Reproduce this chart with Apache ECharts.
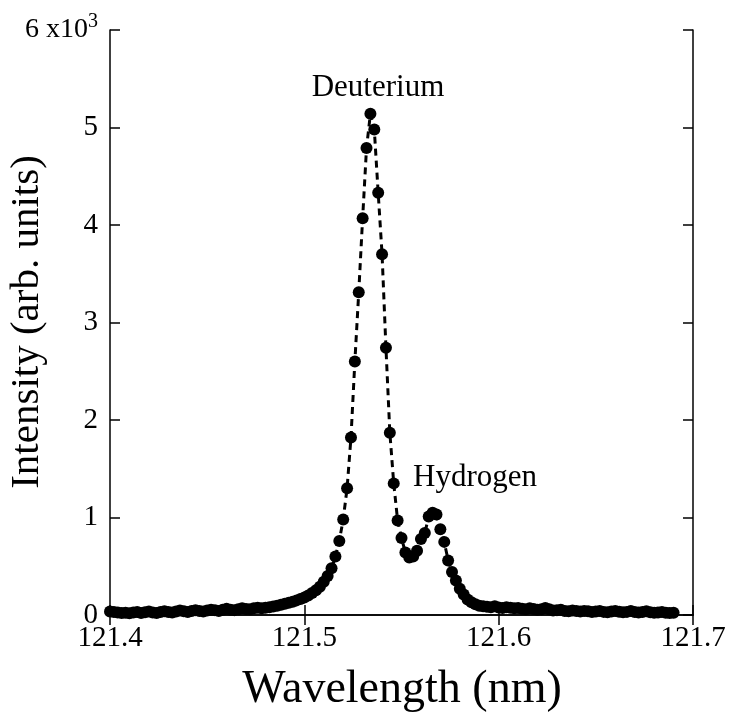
<!DOCTYPE html>
<html><head><meta charset="utf-8">
<script src="https://cdn.jsdelivr.net/npm/echarts/dist/echarts.min.js"></script>
<style>html,body{margin:0;padding:0;background:#fff}#c{width:732px;height:722px}</style>
</head><body><div id="c"></div>
<script>
const wavelength = [
121.400,121.402,121.404,121.406,121.408,121.410,121.412,121.414,121.416,121.418,
121.420,121.422,121.424,121.426,121.428,121.430,121.432,121.434,121.436,121.438,
121.440,121.442,121.444,121.446,121.448,121.450,121.452,121.454,121.456,121.458,
121.460,121.462,121.464,121.466,121.468,121.470,121.472,121.474,121.476,121.478,
121.480,121.482,121.484,121.486,121.488,121.490,121.492,121.494,121.496,121.498,
121.500,121.502,121.504,121.506,121.508,121.510,121.512,121.514,121.516,121.518,
121.520,121.522,121.524,121.526,121.528,121.530,121.532,121.534,121.536,121.538,
121.540,121.542,121.544,121.546,121.548,121.550,121.552,121.554,121.556,121.558,
121.560,121.562,121.564,121.566,121.568,121.570,121.572,121.574,121.576,121.578,
121.580,121.582,121.584,121.586,121.588,121.590,121.592,121.594,121.596,121.598,
121.600,121.602,121.604,121.606,121.608,121.610,121.612,121.614,121.616,121.618,
121.620,121.622,121.624,121.626,121.628,121.630,121.632,121.634,121.636,121.638,
121.640,121.642,121.644,121.646,121.648,121.650,121.652,121.654,121.656,121.658,
121.660,121.662,121.664,121.666,121.668,121.670,121.672,121.674,121.676,121.678,
121.680,121.682,121.684,121.686,121.688,121.690
];
const intensity = [
35,30,25,20,22,18,25,30,20,28,
35,25,20,30,38,30,25,35,45,38,
30,40,50,42,35,45,55,50,40,55,
65,55,50,60,70,62,58,68,75,70,
75,80,88,95,105,115,125,135,150,165,
180,200,225,255,290,340,400,480,600,760,
980,1300,1820,2600,3310,4070,4790,5140,4980,4330,
3700,2740,1870,1350,970,790,640,590,600,660,
780,840,1010,1050,1030,880,750,560,440,355,
270,210,160,130,110,95,90,85,80,90,
78,72,80,75,68,72,65,60,68,62,
55,60,72,58,45,50,55,42,38,45,
40,35,42,38,30,35,40,32,28,35,
42,33,28,32,40,30,25,30,38,28,
22,25,30,22,20,22
];
const xMin = 121.4, xMax = 121.7, xStep = 0.1;
const yMin = 0, yMax = 6000, yStep = 1000;
const xTitle = 'Wavelength (nm)';
const yTitle = 'Intensity (arb. units)';
const peakLabels = ['Deuterium', 'Hydrogen'];

const FONT = '"Liberation Serif", "Times New Roman", serif';
const chart = echarts.init(document.getElementById('c'), null, {renderer: 'canvas'});
const pts = wavelength.map((w, i) => [w, intensity[i]]);
const axLine = {show: true, lineStyle: {color: '#000', width: 1.5}};
const axTick = {show: true, inside: true, length: 10, lineStyle: {color: '#000', width: 1.5}};

const option = {
  backgroundColor: '#fff',
  animation: false,
  grid: {left: 110, top: 30, width: 583, height: 585, outerBoundsMode: 'none', containLabel: false},
  xAxis: [
    {type: 'value', min: xMin, max: xMax, interval: xStep, position: 'bottom',
     axisLine: axLine, axisTick: axTick, splitLine: {show: false},
     axisLabel: {show: true, margin: 9, color: '#000', fontFamily: FONT, fontSize: 29,
       formatter: v => v.toFixed(1)}},
    {type: 'value', min: xMin, max: xMax, interval: xStep, position: 'top',
     axisLine: axLine, axisTick: axTick, splitLine: {show: false}, axisLabel: {show: false}}
  ],
  yAxis: [
    {type: 'value', min: yMin, max: yMax, interval: yStep, position: 'left',
     axisLine: axLine, axisTick: axTick, splitLine: {show: false},
     axisLabel: {show: true, margin: 12, color: '#000', fontFamily: FONT, fontSize: 29,
       formatter: v => v === yMax ? '{b|' + (v / 1000) + ' x10}{s|3}' : String(v / 1000),
       rich: {b: {fontFamily: FONT, fontSize: 28, color: '#000'},
              s: {fontFamily: FONT, fontSize: 20, color: '#000', padding: [0, 0, 16, 0]}}}},
    {type: 'value', min: yMin, max: yMax, interval: yStep, position: 'right',
     axisLine: axLine, axisTick: axTick, splitLine: {show: false}, axisLabel: {show: false}}
  ],
  series: [{
    type: 'line', data: pts, xAxisIndex: 0, yAxisIndex: 0,
    showAllSymbol: true, symbol: 'circle', symbolSize: 12,
    itemStyle: {color: '#000', borderWidth: 0},
    lineStyle: {color: '#000', width: 3, type: [7, 5]},
    emphasis: {disabled: true}
  }],
  graphic: [
    {type: 'text', x: 378, y: 88, style: {text: peakLabels[0], fontFamily: FONT, fontSize: 31, fill: '#000', align: 'center', verticalAlign: 'middle'}},
    {type: 'text', x: 475, y: 478, style: {text: peakLabels[1], fontFamily: FONT, fontSize: 31, fill: '#000', align: 'center', verticalAlign: 'middle'}},
    {type: 'text', x: 402, y: 690, style: {text: xTitle, fontFamily: FONT, fontSize: 46, fill: '#000', align: 'center', verticalAlign: 'middle'}},
    {type: 'text', x: 27, y: 322, rotation: Math.PI / 2, style: {text: yTitle, fontFamily: FONT, fontSize: 41, fill: '#000', align: 'center', verticalAlign: 'middle'}}
  ]
};
chart.setOption(option);
</script>
</body></html>
